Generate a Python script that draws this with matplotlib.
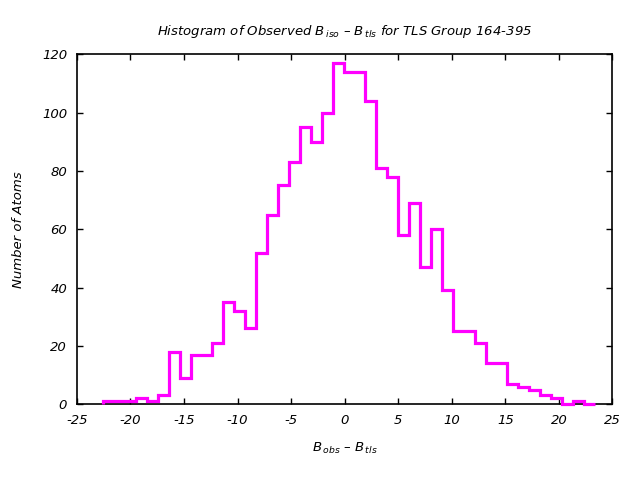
import numpy as np
import matplotlib
matplotlib.use('Agg')
import matplotlib.pyplot as plt

plt.rcParams['font.family'] = ['DejaVu Sans']
plt.rcParams['font.style'] = 'italic'
plt.rcParams['mathtext.fontset'] = 'custom'
plt.rcParams['mathtext.it'] = 'DejaVu Sans:italic'
plt.rcParams['mathtext.rm'] = 'DejaVu Sans:italic'
plt.rcParams['axes.unicode_minus'] = False

# histogram data
bin_start = -22.54
bin_width = 1.02
counts = [1, 1, 1, 2, 1, 3, 18, 9, 17, 17,
          21, 35, 32, 26, 52, 65, 75, 83, 95, 90,
          100, 117, 114, 114, 104, 81, 78, 58, 69, 47,
          60, 39, 25, 25, 21, 14, 14, 7, 6, 5,
          3, 2, 0, 1, 0]
x_ticks = [-25, -20, -15, -10, -5, 0, 5, 10, 15, 20, 25]
y_ticks = [0, 20, 40, 60, 80, 100, 120]

edges = bin_start + bin_width * np.arange(len(counts) + 1)

fig = plt.figure(figsize=(6.4, 4.8), dpi=100)
ax = fig.add_axes([0.12, 0.158, 0.837, 0.729])

ax.stairs(counts, edges, baseline=0, color='#ff00ff', linewidth=2.3,
          zorder=5, clip_on=False)

ax.set_xlim(-25, 25)
ax.set_ylim(0, 120)
ax.set_xticks(x_ticks)
ax.set_yticks(y_ticks)
ax.tick_params(direction='in', top=True, right=True, length=4, width=1,
               labelsize=9.5, pad=7)
for s in ax.spines.values():
    s.set_linewidth(1.2)

ax.set_title(r'Histogram of Observed $B_{\,iso}$ – $B_{\,tls}$ for TLS Group 164-395',
             fontsize=9.5, pad=14)
ax.set_xlabel(r'$B_{\,obs}$ – $B_{\,tls}$', fontsize=9.5, labelpad=10)
ax.set_ylabel('Number of Atoms', fontsize=9.5, labelpad=12)

fig.savefig('out.png', dpi=100)
